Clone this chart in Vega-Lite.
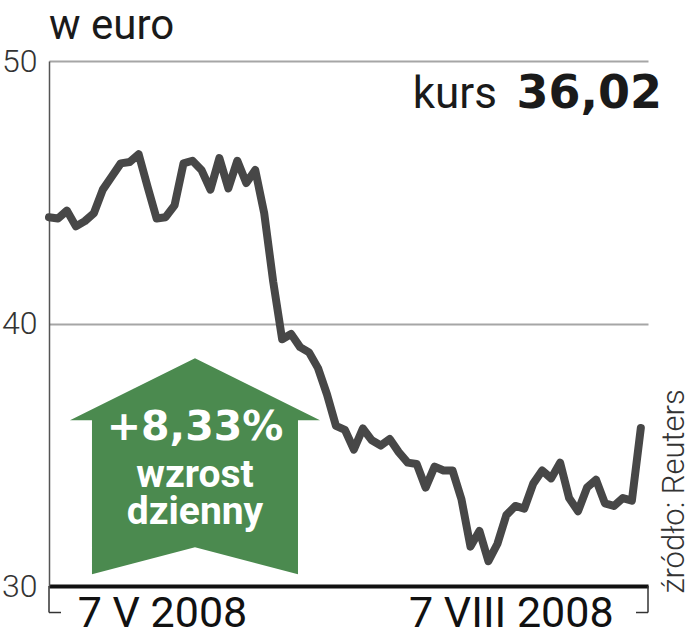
{
  "$schema": "https://vega.github.io/schema/vega-lite/v6.json",
  "width": 599,
  "height": 525,
  "autosize": {"type": "none"},
  "padding": {"left": 49, "top": 61, "right": 45, "bottom": 54},
  "background": "white",
  "config": {"view": {"stroke": null}},
  "data": {"values": [
    {"dzien": 0, "kurs": 44.05}, {"dzien": 1, "kurs": 44.0}, {"dzien": 2, "kurs": 44.3}, {"dzien": 3, "kurs": 43.7},
    {"dzien": 4, "kurs": 43.9}, {"dzien": 5, "kurs": 44.2}, {"dzien": 6, "kurs": 45.1}, {"dzien": 7, "kurs": 45.6},
    {"dzien": 8, "kurs": 46.1}, {"dzien": 9, "kurs": 46.15}, {"dzien": 10, "kurs": 46.45}, {"dzien": 11, "kurs": 45.2},
    {"dzien": 12, "kurs": 44.0}, {"dzien": 13, "kurs": 44.05}, {"dzien": 14, "kurs": 44.5}, {"dzien": 15, "kurs": 46.1},
    {"dzien": 16, "kurs": 46.2}, {"dzien": 17, "kurs": 45.85}, {"dzien": 18, "kurs": 45.1}, {"dzien": 19, "kurs": 46.3},
    {"dzien": 20, "kurs": 45.15}, {"dzien": 21, "kurs": 46.2}, {"dzien": 22, "kurs": 45.35}, {"dzien": 23, "kurs": 45.85},
    {"dzien": 24, "kurs": 44.2}, {"dzien": 25, "kurs": 41.6}, {"dzien": 26, "kurs": 39.4}, {"dzien": 27, "kurs": 39.6},
    {"dzien": 28, "kurs": 39.1}, {"dzien": 29, "kurs": 38.9}, {"dzien": 30, "kurs": 38.3}, {"dzien": 31, "kurs": 37.3},
    {"dzien": 32, "kurs": 36.1}, {"dzien": 33, "kurs": 35.95}, {"dzien": 34, "kurs": 35.2}, {"dzien": 35, "kurs": 36.0},
    {"dzien": 36, "kurs": 35.55}, {"dzien": 37, "kurs": 35.35}, {"dzien": 38, "kurs": 35.6}, {"dzien": 39, "kurs": 35.1},
    {"dzien": 40, "kurs": 34.7}, {"dzien": 41, "kurs": 34.65}, {"dzien": 42, "kurs": 33.75}, {"dzien": 43, "kurs": 34.55},
    {"dzien": 44, "kurs": 34.4}, {"dzien": 45, "kurs": 34.4}, {"dzien": 46, "kurs": 33.3}, {"dzien": 47, "kurs": 31.5},
    {"dzien": 48, "kurs": 32.1}, {"dzien": 49, "kurs": 30.95}, {"dzien": 50, "kurs": 31.6}, {"dzien": 51, "kurs": 32.7},
    {"dzien": 52, "kurs": 33.05}, {"dzien": 53, "kurs": 32.95}, {"dzien": 54, "kurs": 33.9}, {"dzien": 55, "kurs": 34.4},
    {"dzien": 56, "kurs": 34.1}, {"dzien": 57, "kurs": 34.7}, {"dzien": 58, "kurs": 33.35}, {"dzien": 59, "kurs": 32.85},
    {"dzien": 60, "kurs": 33.75}, {"dzien": 61, "kurs": 34.05}, {"dzien": 62, "kurs": 33.15}, {"dzien": 63, "kurs": 33.05},
    {"dzien": 64, "kurs": 33.35}, {"dzien": 65, "kurs": 33.25}, {"dzien": 66, "kurs": 36.02}
  ]},
  "layer": [
    {
      "data": {"values": [{}]},
      "mark": {"type": "point", "shape": "M0,-0.864L1,-0.368L0.824,-0.368L0.824,0.864L0,0.648L-0.824,0.864L-0.824,-0.368L-1,-0.368Z", "filled": true, "opacity": 1, "color": "#4b8a4f", "strokeWidth": 0, "size": 62500},
      "encoding": {
        "x": {"datum": 16.28, "type": "quantitative", "scale": {"domain": [0, 66.8], "nice": false, "zero": false},
          "axis": {"values": [12.6, 51.5], "labelExpr": "datum.value < 30 ? '7 V 2008' : '7 VIII 2008'", "title": null, "grid": false, "ticks": false,
            "domainColor": "#111", "domainWidth": 4, "labelFont": "Roboto", "labelFontSize": 43, "labelColor": "#111", "labelPadding": 6, "labelBaseline": "top", "labelFlush": false, "labelOverlap": false, "labelLimit": 0}},
        "y": {"datum": 34.56, "type": "quantitative", "scale": {"domain": [30, 50], "nice": false, "zero": false},
          "axis": {"values": [30, 40, 50], "title": null, "grid": true, "gridColor": "#a6a6a6", "gridWidth": 2, "ticks": false,
            "domainColor": "#555", "domainWidth": 1.5, "labelFont": "Roboto", "labelFontWeight": 300, "labelFontSize": 32, "labelColor": "#333", "labelPadding": 12}}
      }
    },
    {
      "mark": {"type": "line", "color": "#474747", "strokeWidth": 8, "strokeJoin": "round", "strokeCap": "round"},
      "encoding": {
        "x": {"field": "dzien", "type": "quantitative"},
        "y": {"field": "kurs", "type": "quantitative"}
      }
    },
    {
      "data": {"values": [{}]},
      "mark": {"type": "text", "text": "+8,33%", "font": "DejaVu Sans", "fontWeight": "bold", "fontSize": 41, "color": "white", "align": "center", "baseline": "alphabetic"},
      "encoding": {"x": {"datum": 16.28, "type": "quantitative"}, "y": {"datum": 35.55, "type": "quantitative"}}
    },
    {
      "data": {"values": [{}]},
      "mark": {"type": "text", "text": "wzrost", "font": "Roboto", "fontWeight": "bold", "fontSize": 39, "color": "white", "align": "center", "baseline": "alphabetic"},
      "encoding": {"x": {"datum": 16.28, "type": "quantitative"}, "y": {"datum": 33.76, "type": "quantitative"}}
    },
    {
      "data": {"values": [{}]},
      "mark": {"type": "text", "text": "dzienny", "font": "Roboto", "fontWeight": "bold", "fontSize": 39, "color": "white", "align": "center", "baseline": "alphabetic"},
      "encoding": {"x": {"datum": 16.28, "type": "quantitative"}, "y": {"datum": 32.35, "type": "quantitative"}}
    },
    {
      "data": {"values": [{}]},
      "mark": {"type": "text", "text": "kurs", "font": "Roboto", "fontSize": 44, "color": "#1a1a1a", "align": "right", "baseline": "alphabetic"},
      "encoding": {"x": {"datum": 49.96, "type": "quantitative"}, "y": {"datum": 48.21, "type": "quantitative"}}
    },
    {
      "data": {"values": [{}]},
      "mark": {"type": "text", "text": "36,02", "font": "DejaVu Sans", "fontWeight": "bold", "fontSize": 46, "color": "#1a1a1a", "align": "right", "baseline": "alphabetic"},
      "encoding": {"x": {"datum": 68.36, "type": "quantitative"}, "y": {"datum": 48.21, "type": "quantitative"}}
    },
    {
      "data": {"values": [{}]},
      "mark": {"type": "text", "text": "w euro", "font": "Roboto", "fontSize": 42, "color": "#1a1a1a", "align": "left", "baseline": "alphabetic"},
      "encoding": {"x": {"datum": 0, "type": "quantitative"}, "y": {"datum": 50.82, "type": "quantitative"}}
    },
    {
      "data": {"values": [{}]},
      "mark": {"type": "text", "text": "źródło: Reuters", "font": "Roboto", "fontWeight": 300, "fontSize": 31, "color": "#333", "align": "center", "baseline": "middle", "angle": 270},
      "encoding": {"x": {"datum": 69.85, "type": "quantitative"}, "y": {"datum": 33.6, "type": "quantitative"}}
    },
    {
      "data": {"values": [{}]},
      "mark": {"type": "rule", "color": "#333", "strokeWidth": 1.5},
      "encoding": {"x": {"datum": 0, "type": "quantitative"}, "y": {"datum": 30, "type": "quantitative"}, "y2": {"datum": 28.99}}
    },
    {
      "data": {"values": [{}]},
      "mark": {"type": "rule", "color": "#333", "strokeWidth": 1.5},
      "encoding": {"x": {"datum": 0, "type": "quantitative"}, "x2": {"datum": 1.34}, "y": {"datum": 28.99, "type": "quantitative"}}
    },
    {
      "data": {"values": [{}]},
      "mark": {"type": "rule", "color": "#333", "strokeWidth": 1.5},
      "encoding": {"x": {"datum": 66.8, "type": "quantitative"}, "y": {"datum": 30, "type": "quantitative"}, "y2": {"datum": 28.99}}
    },
    {
      "data": {"values": [{}]},
      "mark": {"type": "rule", "color": "#333", "strokeWidth": 1.5},
      "encoding": {"x": {"datum": 65.46, "type": "quantitative"}, "x2": {"datum": 66.8}, "y": {"datum": 28.99, "type": "quantitative"}}
    }
  ]
}
